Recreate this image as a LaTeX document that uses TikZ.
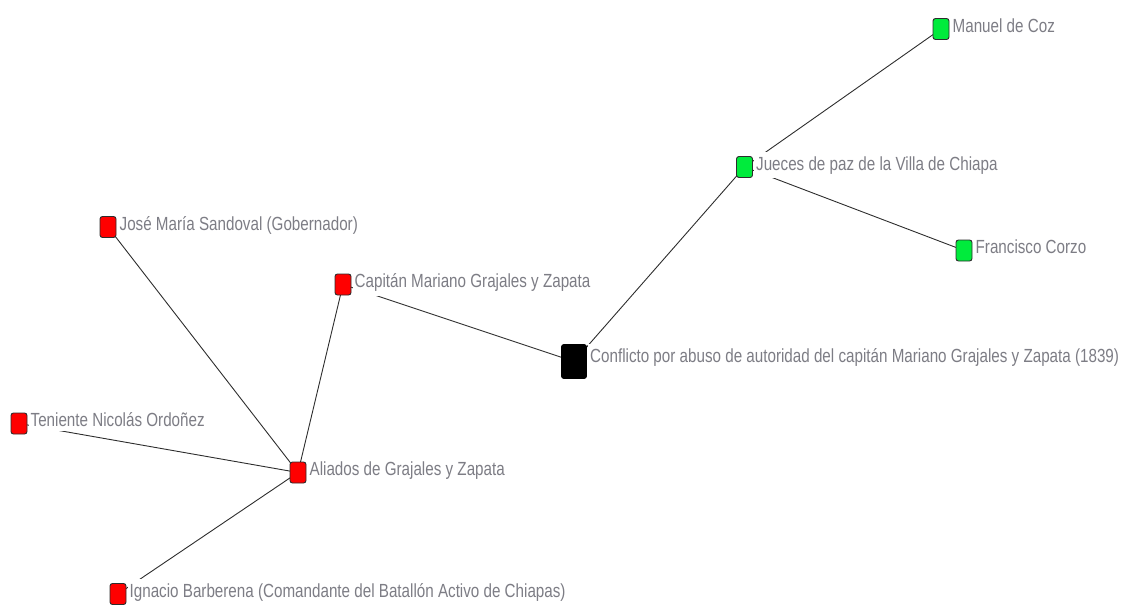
\documentclass[tikz,border=0pt]{standalone}
\usepackage{fontspec}
\setmainfont{Liberation Sans}[FakeStretch=0.8]
\usetikzlibrary{backgrounds}
\definecolor{txtgray}{RGB}{125,125,133}
\definecolor{edgecol}{RGB}{45,45,45}
\definecolor{boxred}{RGB}{255,0,0}
\definecolor{boxgreen}{RGB}{0,235,60}
\definecolor{boxborder}{RGB}{45,45,45}
\tikzset{
  vbox/.style={draw=boxborder, line width=0.9pt, rounded corners=2.5pt, minimum width=16pt, minimum height=21pt, inner sep=0pt},
  redbox/.style={vbox, fill=boxred},
  greenbox/.style={vbox, fill=boxgreen},
  blackbox/.style={vbox, fill=black, draw=black, minimum width=25pt, minimum height=34pt},
  lbl/.style={anchor=base west, fill=white, inner xsep=2pt, inner ysep=4.5pt, text=txtgray, font=\fontsize{19pt}{21pt}\selectfont},
  edge/.style={draw=edgecol, line width=0.9pt}
}
\begin{document}
\begin{tikzpicture}[x=1pt,y=-1pt]
\useasboundingbox (0,0) rectangle (1130,605);
% boxes
\node[greenbox] (coz) at (941,29) {};
\node[greenbox] (jue) at (744.5,167) {};
\node[greenbox] (cor) at (964,250.5) {};
\node[blackbox] (con) at (574,361.5) {};
\node[redbox] (cap) at (343,284.5) {};
\node[redbox] (san) at (108,227) {};
\node[redbox] (ten) at (19,423.5) {};
\node[redbox] (ali) at (298,472.5) {};
\node[redbox] (ign) at (118,594) {};
% labels
\node[lbl] (cozL) at ([xshift=1pt,yshift=-3pt]coz.east) {Manuel de Coz};
\node[lbl] (jueL) at ([xshift=1pt,yshift=-3pt]jue.east) {Jueces de paz de la Villa de Chiapa};
\node[lbl] (corL) at ([xshift=1pt,yshift=-3pt]cor.east) {Francisco Corzo};
\node[lbl] (conL) at ([xshift=1pt,yshift=-1pt]con.east) {Conflicto por abuso de autoridad del capitán Mariano Grajales y Zapata (1839)};
\node[lbl] (capL) at ([xshift=1pt,yshift=-3pt]cap.east) {Capitán Mariano Grajales y Zapata};
\node[lbl] (sanL) at ([xshift=1pt,yshift=-3pt]san.east) {José María Sandoval (Gobernador)};
\node[lbl] (tenL) at ([xshift=1pt,yshift=-3pt]ten.east) {Teniente Nicolás Ordoñez};
\node[lbl] (aliL) at ([xshift=1pt,yshift=-3pt]ali.east) {Aliados de Grajales y Zapata};
\node[lbl] (ignL) at ([xshift=1pt,yshift=-3pt]ign.east) {Ignacio Barberena (Comandante del Batallón Activo de Chiapas)};
% edges
\begin{scope}[on background layer]
\draw[edge] (coz.center) -- (jue.center);
\draw[edge] (jue.center) -- (cor.center);
\draw[edge] (jue.center) -- (con.center);
\draw[edge] (cap.center) -- (con.center);
\draw[edge] (cap.center) -- (ali.center);
\draw[edge] (san.center) -- (ali.center);
\draw[edge] (ten.center) -- (ali.center);
\draw[edge] (ign.center) -- (ali.center);
\end{scope}
\end{tikzpicture}
\end{document}
